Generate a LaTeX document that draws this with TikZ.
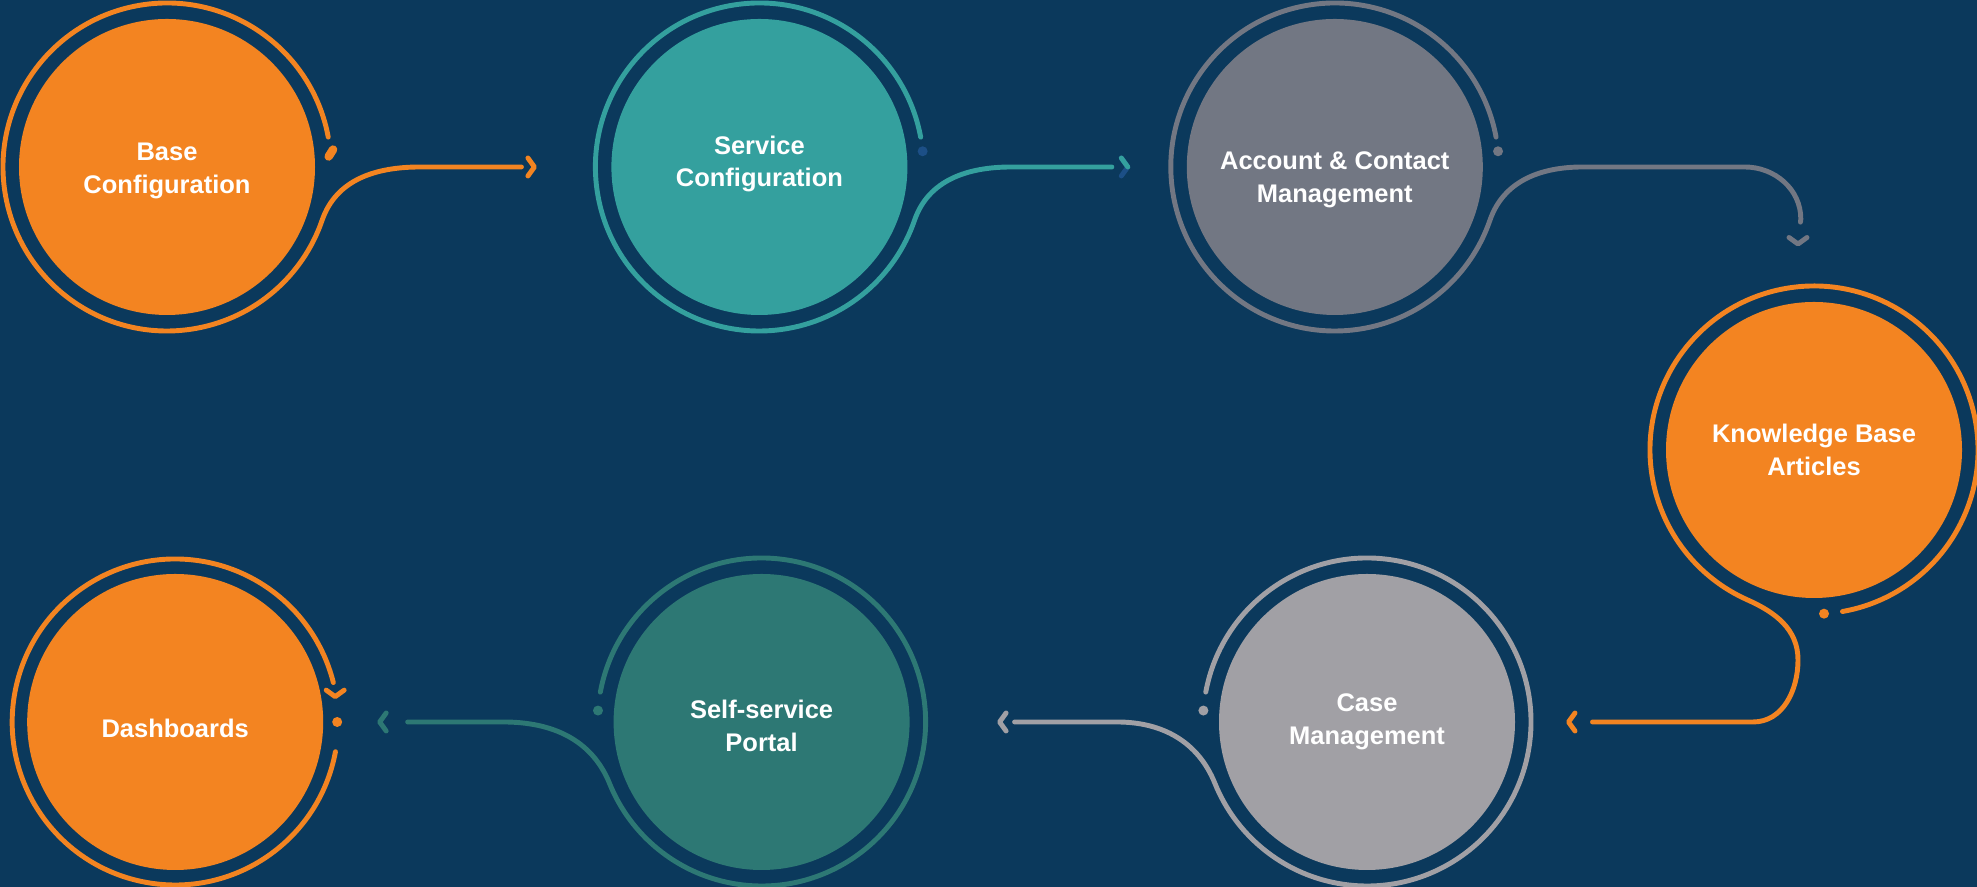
\documentclass[tikz,border=0pt]{standalone}
\usepackage{fontspec}
\setmainfont{Liberation Sans}
\usetikzlibrary{calc,positioning}

\definecolor{bgnavy}{HTML}{0B395C}
\definecolor{cOrange}{HTML}{F38421}
\definecolor{cTeal}{HTML}{34A09E}
\definecolor{cSlate}{HTML}{727783}
\definecolor{cSilver}{HTML}{A1A0A5}
\definecolor{cPine}{HTML}{2D7874}
\definecolor{cDeep}{HTML}{1C4F86}

\tikzset{
  stage/.style={circle, minimum size=2.96cm, inner sep=0pt},
  caption/.style={text=white, align=center, font=\bfseries\fontsize{7.25}{9.3}\selectfont},
  ringline/.style={line width=1.4pt, line cap=round, line join=round},
  chev/.pic={\draw[ringline] (-0.065,0.09) -- (0,0) -- (-0.065,-0.09);},
}

\begin{document}
\begin{tikzpicture}
  \path[use as bounding box, fill=bgnavy] (0,0) rectangle (19.77,8.87);

  % the seven stages
  \node[stage, fill=cOrange, label={[caption, yshift=-0.4mm]center:{Base\\Configuration}}]
    (base) at (1.67,7.20) {};
  \node[stage, fill=cTeal, right=2.95cm of base,
    label={[caption, yshift=0.3mm]center:{Service\\Configuration}}] (service) {};
  \node[stage, fill=cSlate, right=2.78cm of service,
    label={[caption, yshift=-1.3mm]center:{Account \& Contact\\Management}}] (account) {};
  \node[stage, fill=cOrange, label={[caption]center:{Knowledge Base\\Articles}}]
    (knowledge) at (18.14,4.37) {};
  \node[stage, fill=cSilver, label={[caption]center:{Case\\Management}}]
    (casemgmt) at (13.67,1.65) {};
  \node[stage, fill=cPine, left=3.08cm of casemgmt,
    label={[caption, yshift=-0.4mm]center:{Self-service\\Portal}}] (portal) {};
  \node[stage, fill=cOrange, left=2.89cm of portal,
    label={[caption, yshift=-0.6mm]center:Dashboards}] (dashboards) {};

  % arrow tips, just in front of the next stage
  \coordinate (t12) at ($(service)+(-2.25,0)$);
  \coordinate (t23) at ($(account)+(-2.07,0)$);
  \coordinate (t34) at ($(knowledge)+(-0.16,2.06)$);
  \coordinate (t45) at ($(casemgmt)+(2.015,0)$);
  \coordinate (t56) at ($(portal)+(2.38,0)$);
  \coordinate (t67) at ($(dashboards)+(2.045,0)$);

  % base -> service
  \draw[ringline, cOrange, line width=2.4pt] ($(base)+(3.7:1.62)$) -- ($(base)+(6:1.67)$);
  \draw[ringline, cOrange, shorten >=0.13cm] ($(base)+(10.5:1.64)$)
    arc[start angle=10.5, end angle=341, radius=1.64]
    to[out=71, in=180] ($(base)+(2.53,0)$) -- (t12);
  \pic[cOrange] at (t12) {chev};

  % service -> account
  \fill[cDeep] ($(service)+(5.5:1.64)$) circle (0.05);
  \draw[ringline, cTeal, shorten >=0.16cm] ($(service)+(10.5:1.64)$)
    arc[start angle=10.5, end angle=341, radius=1.64]
    to[out=71, in=180] ($(service)+(2.52,0)$) -- (t23);
  \pic[cDeep] at (t23) {chev};
  \draw[ringline, cTeal] (t23) -- ++(-0.065,0.09);

  % account -> knowledge
  \fill[cSlate] ($(account)+(5.5:1.64)$) circle (0.05);
  \draw[ringline, cSlate, shorten >=0.22cm] ($(account)+(10.5:1.64)$)
    arc[start angle=10.5, end angle=341, radius=1.64]
    to[out=71, in=180] ($(account)+(2.48,0)$) -- ($(account)+(4.10,0)$)
    to[out=0, in=90] ($(account)+(4.66,-0.52)$) -- (t34);
  \pic[cSlate, rotate=-90] at (t34) {chev};

  % knowledge -> case
  \fill[cOrange] ($(knowledge)+(-86.5:1.64)$) circle (0.05);
  \draw[ringline, cOrange, shorten >=0.24cm] ($(knowledge)+(-80:1.64)$)
    arc[start angle=-80, end angle=246, radius=1.64]
    to[out=-24, in=90] ($(knowledge)+(-0.16,-2.10)$)
    to[out=-90, in=0] ($(knowledge)+(-0.61,-2.72)$) -- (t45);
  \pic[cOrange, rotate=180] at (t45) {chev};

  % case -> portal
  \fill[cSilver] ($(casemgmt)+(176:1.64)$) circle (0.05);
  \draw[ringline, cSilver, shorten >=0.15cm] ($(casemgmt)+(169.5:1.64)$)
    arc[start angle=169.5, end angle=-158, radius=1.64]
    to[out=112, in=0] ($(casemgmt)+(-2.50,0)$) -- (t56);
  \pic[cSilver, rotate=180] at (t56) {chev};

  % portal -> dashboards
  \fill[cPine] ($(portal)+(176:1.64)$) circle (0.05);
  \draw[ringline, cPine, shorten >=0.28cm] ($(portal)+(169.5:1.64)$)
    arc[start angle=169.5, end angle=-158, radius=1.64]
    to[out=112, in=0] ($(portal)+(-2.58,0)$) -- (t67);
  \pic[cPine, rotate=180] at (t67) {chev};

  % dashboards closes the loop on itself
  \fill[cOrange] ($(dashboards)+(0:1.62)$) circle (0.05);
  \draw[ringline, cOrange] ($(dashboards)+(-10.5:1.63)$)
    arc[start angle=-10.5, end angle=-346, radius=1.63];
  \pic[cOrange, rotate=-90] at ($(dashboards)+(9:1.62)$) {chev};
\end{tikzpicture}
\end{document}
